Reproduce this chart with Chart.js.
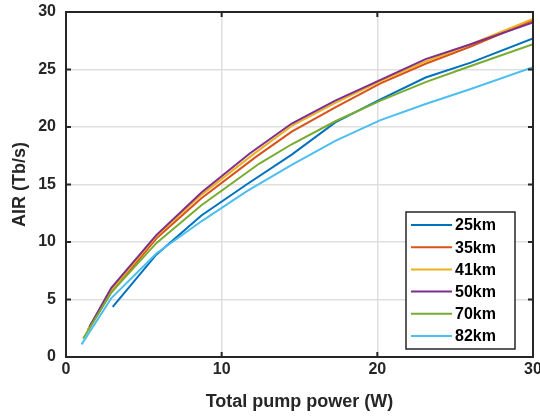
<!DOCTYPE html>
<html>
<head>
<meta charset="utf-8">
<script src="https://cdn.jsdelivr.net/npm/chart.js@4"></script>
<style>
  html, body { margin: 0; padding: 0; background: #fff; }
  #wrap { width: 540px; height: 417px; }
</style>
</head>
<body>
<div id="wrap"><canvas id="airChart" width="540" height="417"></canvas></div>
<script>
// fibre lengths (legend)
const seriesNames = ["25km", "35km", "41km", "50km", "70km", "82km"];
const seriesColors = ["#0072BD", "#D95319", "#EDB120", "#7E2F8E", "#77AC30", "#4DBEEE"];

// total pump power (W) / AIR (Tb/s)
const x25 = [3.0, 5.8, 8.7, 11.6, 14.5, 17.3, 20.2, 23.1, 26.0, 30.0];
const y25 = [4.35, 8.9, 12.3, 15.0, 17.6, 20.4, 22.4, 24.3, 25.6, 27.7];

const x35 = [1.4, 2.9, 5.8, 8.7, 12.2, 14.5, 17.3, 20.2, 23.1, 26.0, 30.0];
const y35 = [2.3, 5.6, 10.3, 13.8, 17.4, 19.6, 21.7, 23.8, 25.5, 27.0, 29.3];

const x41 = [1.4, 2.9, 5.8, 8.7, 12.0, 14.5, 17.3, 20.2, 23.1, 26.0, 30.0];
const y41 = [2.4, 5.8, 10.5, 14.1, 17.6, 20.1, 22.1, 24.0, 25.7, 27.2, 29.4];

const x50 = [1.5, 2.9, 5.8, 8.7, 11.8, 14.5, 17.3, 20.2, 23.1, 26.0, 30.0];
const y50 = [2.6, 6.0, 10.6, 14.3, 17.7, 20.3, 22.3, 24.1, 25.9, 27.2, 29.1];

const x70 = [1.1, 2.9, 5.8, 8.7, 12.4, 14.5, 17.3, 20.2, 23.1, 26.0, 30.0];
const y70 = [1.6, 5.6, 9.9, 13.2, 16.8, 18.5, 20.5, 22.3, 23.9, 25.3, 27.2];

const x82 = [1.0, 2.9, 5.8, 8.7, 11.6, 14.5, 17.3, 20.2, 23.1, 26.0, 30.0];
const y82 = [1.1, 5.1, 9.0, 11.8, 14.4, 16.7, 18.8, 20.6, 22.0, 23.3, 25.2];

const xTicks = [0, 10, 20, 30];
const yTicks = [0, 5, 10, 15, 20, 25, 30];

const allX = [x25, x35, x41, x50, x70, x82];
const allY = [y25, y35, y41, y50, y70, y82];

const FONT = "'Liberation Sans', Arial, Helvetica, sans-serif";
const INK = "#262626";

const datasets = seriesNames.map((name, i) => ({
    label: name,
    data: allX[i].map((x, k) => ({ x: x, y: allY[i][k] })),
    borderColor: seriesColors[i],
    backgroundColor: seriesColors[i],
    borderWidth: 2,
    pointRadius: 0,
    tension: 0,
    order: seriesNames.length - i   // later series drawn on top
}));

// box frame, inward tick marks and the legend inside the plot
const framePlugin = {
    id: "frame",
    afterDatasetsDraw(chart) {
        const ctx = chart.ctx;
        const a = chart.chartArea;
        const xs = chart.scales.x, ys = chart.scales.y;
        ctx.save();
        ctx.strokeStyle = INK;
        ctx.lineWidth = 2;
        ctx.strokeRect(a.left, a.top, a.right - a.left, a.bottom - a.top);
        const t = 5;
        ctx.beginPath();
        xTicks.forEach(v => {
            const px = xs.getPixelForValue(v);
            ctx.moveTo(px, a.bottom); ctx.lineTo(px, a.bottom - t);
            ctx.moveTo(px, a.top); ctx.lineTo(px, a.top + t);
        });
        yTicks.forEach(v => {
            const py = ys.getPixelForValue(v);
            ctx.moveTo(a.left, py); ctx.lineTo(a.left + t, py);
            ctx.moveTo(a.right, py); ctx.lineTo(a.right - t, py);
        });
        ctx.stroke();

        // legend
        const bx = 406, by = 212, bw = 109, bh = 137;
        ctx.fillStyle = "#fff";
        ctx.fillRect(bx, by, bw, bh);
        ctx.lineWidth = 1.5;
        ctx.strokeRect(bx, by, bw, bh);
        ctx.font = "bold 16px " + FONT;
        ctx.textBaseline = "middle";
        ctx.textAlign = "left";
        seriesNames.forEach((name, i) => {
            const y = by + 13 + i * 22.2;
            ctx.strokeStyle = seriesColors[i];
            ctx.lineWidth = 2;
            ctx.beginPath();
            ctx.moveTo(bx + 5, y); ctx.lineTo(bx + 46, y);
            ctx.stroke();
            ctx.fillStyle = "#000";
            ctx.fillText(name, bx + 49, y + 1);
        });
        ctx.restore();
    }
};

new Chart(document.getElementById("airChart").getContext("2d"), {
    type: "line",
    data: { datasets: datasets },
    options: {
        responsive: false,
        animation: false,
        layout: { padding: { top: 12, right: 7, left: 0, bottom: 0 } },
        plugins: {
            legend: { display: false },
            tooltip: { enabled: false }
        },
        scales: {
            x: {
                type: "linear",
                min: 0, max: 30,
                afterBuildTicks: s => { s.ticks = xTicks.map(v => ({ value: v })); },
                afterFit: s => { s.height = 60; s.paddingLeft = 0; s.paddingRight = 0; },
                grid: { color: "#dfdfdf", lineWidth: 1.5, drawTicks: false },
                border: { display: false },
                ticks: { color: INK, padding: 3, maxRotation: 0, font: { family: FONT, size: 16, weight: "bold" } },
                title: {
                    display: true, text: "Total pump power (W)", color: INK,
                    padding: { top: 3, bottom: 4 },
                    font: { family: FONT, size: 18, weight: "bold" }
                }
            },
            y: {
                type: "linear",
                min: 0, max: 30,
                afterBuildTicks: s => { s.ticks = yTicks.map(v => ({ value: v })); },
                afterFit: s => { s.width = 66; s.paddingTop = 0; s.paddingBottom = 0; },
                grid: { color: "#dfdfdf", lineWidth: 1.5, drawTicks: false },
                border: { display: false },
                ticks: { color: INK, padding: 10, font: { family: FONT, size: 16, weight: "bold" } },
                title: {
                    display: true, text: "AIR (Tb/s)", color: INK,
                    padding: { top: 9, bottom: 0 },
                    font: { family: FONT, size: 18, weight: "bold" }
                }
            }
        }
    },
    plugins: [framePlugin]
});
</script>
</body>
</html>
